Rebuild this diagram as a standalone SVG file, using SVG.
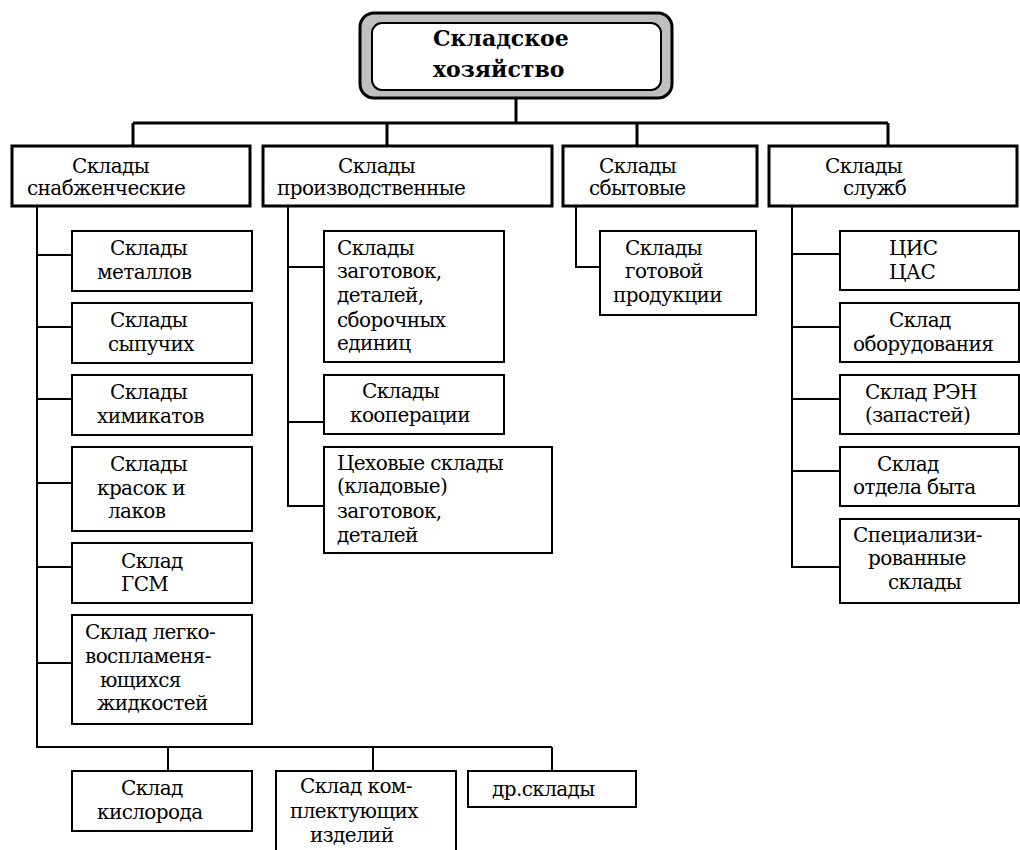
<svg xmlns="http://www.w3.org/2000/svg" width="1020" height="850" viewBox="0 0 1020 850">
<style>
text{font-family:'DejaVu Serif',serif;font-size:20px;letter-spacing:-0.6px;fill:#000}
.title{font-weight:bold;font-size:22px;letter-spacing:0}
.l1{fill:#fff;stroke:#000;stroke-width:3}
.l2{fill:#fff;stroke:#000;stroke-width:2}
.c1{fill:none;stroke:#000;stroke-width:3}
.c2{fill:none;stroke:#000;stroke-width:2}
</style>
<rect width="1020" height="850" fill="#fff"/>
<g id="connectors">
<path class="c1" d="M516 98V123M133 123H888M133 123V146M387 123V146M637 123V146M888 123V146"/>
<path class="c2" d="M37 206V747H552M37 255H72M37 327H72M37 399H72M37 483H72M37 567H72M37 663H72M168 747V771M373 747V771M552 747V771"/>
<path class="c2" d="M288 206V506H324M288 267H324M288 422H324"/>
<path class="c2" d="M576 206V267H600"/>
<path class="c2" d="M792 206V567H840M792 254H840M792 327H840M792 399H840M792 471H840"/>
</g>
<g id="root">
<rect x="360" y="13" width="312" height="85" rx="14" fill="#c0c0c0" stroke="#000" stroke-width="3"/>
<rect x="372" y="23" width="289" height="67" rx="10" fill="#fff" stroke="#000" stroke-width="2"/>
<text class="title" x="433" y="46">Складское</text>
<text class="title" x="433" y="77">хозяйство</text>
</g>
<g id="supply">
<rect class="l1" x="12" y="146" width="238" height="60"/>
<text x="72" y="173">Склады</text><text x="27" y="195">снабженческие</text>
</g>
<g id="production">
<rect class="l1" x="263" y="146" width="289" height="60"/>
<text x="338" y="173">Склады</text><text x="277" y="195">производственные</text>
</g>
<g id="sales">
<rect class="l1" x="563" y="146" width="194" height="60"/>
<text x="599" y="173">Склады</text><text x="589" y="195">сбытовые</text>
</g>
<g id="services">
<rect class="l1" x="769" y="146" width="248" height="60"/>
<text x="825" y="173">Склады</text><text x="843" y="195">служб</text>
</g>
<g id="metals">
<rect class="l2" x="72" y="231" width="180" height="60"/>
<text x="110" y="255">Склады</text><text x="97" y="279">металлов</text>
</g>
<g id="bulk">
<rect class="l2" x="72" y="303" width="180" height="60"/>
<text x="110" y="327">Склады</text><text x="108" y="351">сыпучих</text>
</g>
<g id="chemicals">
<rect class="l2" x="72" y="375" width="180" height="60"/>
<text x="110" y="399">Склады</text><text x="97" y="423">химикатов</text>
</g>
<g id="paints">
<rect class="l2" x="72" y="447" width="180" height="84"/>
<text x="110" y="471">Склады</text><text x="97" y="495">красок и</text><text x="108" y="518">лаков</text>
</g>
<g id="fuel">
<rect class="l2" x="72" y="543" width="180" height="60"/>
<text x="121" y="568">Склад</text><text x="121" y="591">ГСМ</text>
</g>
<g id="flammable">
<rect class="l2" x="72" y="615" width="180" height="109"/>
<text x="85" y="639">Склад легко-</text><text x="85" y="663">воспламеня-</text><text x="100" y="687">ющихся</text><text x="97" y="710">жидкостей</text>
</g>
<g id="oxygen">
<rect class="l2" x="72" y="771" width="180" height="60"/>
<text x="121" y="795">Склад</text><text x="97" y="819">кислорода</text>
</g>
<g id="components">
<rect class="l2" x="276" y="771" width="180" height="100"/>
<text x="300" y="793">Склад ком-</text><text x="290" y="818">плектующих</text><text x="310" y="842">изделий</text>
</g>
<g id="other">
<rect class="l2" x="468" y="771" width="168" height="36"/>
<text x="492" y="796">др.склады</text>
</g>
<g id="blanks">
<rect class="l2" x="324" y="231" width="180" height="131"/>
<text x="337" y="255">Склады</text><text x="337" y="278">заготовок,</text><text x="337" y="302">деталей,</text><text x="337" y="327">сборочных</text><text x="337" y="350">единиц</text>
</g>
<g id="cooperation">
<rect class="l2" x="324" y="375" width="180" height="59"/>
<text x="362" y="398">Склады</text><text x="350" y="422">кооперации</text>
</g>
<g id="workshop">
<rect class="l2" x="324" y="447" width="228" height="106"/>
<text x="337" y="470">Цеховые склады</text><text x="337" y="493">(кладовые)</text><text x="337" y="518">заготовок,</text><text x="337" y="542">деталей</text>
</g>
<g id="finished">
<rect class="l2" x="600" y="231" width="156" height="84"/>
<text x="625" y="255">Склады</text><text x="625" y="278">готовой</text><text x="613" y="302">продукции</text>
</g>
<g id="cis">
<rect class="l2" x="840" y="231" width="179" height="59"/>
<text x="889" y="255">ЦИС</text><text x="889" y="279">ЦАС</text>
</g>
<g id="equipment">
<rect class="l2" x="840" y="303" width="179" height="59"/>
<text x="889" y="327">Склад</text><text x="853" y="351">оборудования</text>
</g>
<g id="spares">
<rect class="l2" x="840" y="375" width="179" height="59"/>
<text x="865" y="399">Склад РЭН</text><text x="865" y="422">(запастей)</text>
</g>
<g id="household">
<rect class="l2" x="840" y="447" width="179" height="59"/>
<text x="877" y="471">Склад</text><text x="853" y="494">отдела быта</text>
</g>
<g id="specialized">
<rect class="l2" x="840" y="519" width="179" height="84"/>
<text x="853" y="542">Специализи-</text><text x="868" y="565">рованные</text><text x="888" y="589">склады</text>
</g>
</svg>
